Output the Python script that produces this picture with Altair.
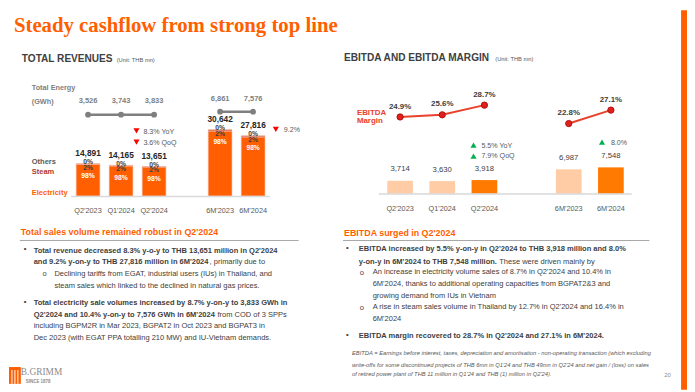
import altair as alt
import pandas as pd

# ---------------- data ----------------
periods = ["Q2'2023", "Q1'2024", "Q2'2024", "6M'2023", "6M'2024"]
groups = ["Q", "Q", "Q", "H", "H"]
revenue = [14891, 14165, 13651, 30642, 27816]
elec_share = [98, 98, 98, 98, 98]
steam_share = [2, 2, 2, 2, 2]
others_share = [0, 0, 0, 0, 0]
energy_gwh = [3526, 3743, 3833, 6861, 7576]
ebitda = [3714, 3630, 3918, 6987, 7548]
ebitda_margin = [24.9, 25.6, 28.7, 22.8, 27.1]
current = [False, False, True, False, True]

SANS = "Liberation Sans"
SERIF = "Liberation Serif"
DARK = "#404040"
GRAY = "#7F7F7F"
ORANGE = "#FF5F00"

# x domains with a blank spacer between quarters and half-years
x_domain = periods[:3] + [" "] + periods[3:]

rev_rows = []
for p, r, e, s, o in zip(periods, revenue, elec_share, steam_share, others_share):
    rev_rows.append({"period": p, "segment": "Electricity", "amount": r * e / 100, "ord": 0})
    rev_rows.append({"period": p, "segment": "Steam", "amount": r * s / 100, "ord": 1})
    rev_rows.append({"period": p, "segment": "Others", "amount": r * o / 100, "ord": 2})
rev_long = pd.DataFrame(rev_rows)

rev = pd.DataFrame({
    "period": periods, "group": groups, "revenue": revenue,
    "elec": [f"{v}%" for v in elec_share],
    "steam": [f"{v}%" for v in steam_share],
    "others": [f"{v}%" for v in others_share],
    "energy": energy_gwh,
})
eb = pd.DataFrame({
    "period": periods, "group": groups, "ebitda": ebitda,
    "margin": ebitda_margin, "current": ["cur" if c else "prev" for c in current],
    "mlabel": [f"{m:.1f}%" for m in ebitda_margin],
})
ONE = pd.DataFrame({"k": [0]})

# ---------------- scales ----------------
XL = alt.Scale(type="point", domain=x_domain, range=[81, 248], padding=0)
YL = alt.Scale(domain=[0, 35000], range=[188, 111.45], nice=False)
XR = alt.Scale(type="point", domain=x_domain, range=[396.7, 610], padding=0)
YRB = alt.Scale(domain=[0, 8000], range=[185.7, 157.4], nice=False)
YRM = alt.Scale(domain=[20, 30], range=[123.5, 91.9], nice=False, zero=False)


def txt(s, x, y, size=7.6, color=DARK, weight="normal", align="left",
        font=SANS, style="normal", baseline="middle"):
    return alt.Chart(ONE).mark_text(
        text=s, fontSize=size, color=color, fontWeight=weight, align=align,
        font=font, fontStyle=style, baseline=baseline
    ).encode(x=alt.value(x), y=alt.value(y))


def hline(x1, x2, y, color="#BFBFBF", w=1.0):
    return alt.Chart(ONE).mark_rule(color=color, strokeWidth=w).encode(
        x=alt.value(x1), x2=alt.value(x2), y=alt.value(y))


def tri(x, y, shape, color):
    return alt.Chart(ONE).mark_point(shape=shape, filled=True, color=color,
                                     size=38, opacity=1).encode(
        x=alt.value(x), y=alt.value(y))


layers = []

# right edge stripe
layers.append(alt.Chart(ONE).mark_rect(color=ORANGE).encode(
    x=alt.value(681), x2=alt.value(687), y=alt.value(0), y2=alt.value(384)))

# title
layers.append(txt("Steady cashflow from strong top line", 6, 22, size=21,
                  color=ORANGE, weight="bold", font=SERIF, baseline="alphabetic"))
layers.append(txt("TOTAL REVENUES", 14, 49, size=10.2, weight="bold"))
layers.append(txt("(Unit: THB mn)", 110, 50, size=5.8, color="#595959"))
layers.append(txt("EBITDA AND EBITDA MARGIN", 340, 48, size=10.2, weight="bold"))
layers.append(txt("(Unit: THB mn)", 493, 49, size=5.8, color="#595959"))

# ---------------- left panel: revenues ----------------
layers.append(txt("Total Energy", 24, 79, size=7.4, color=GRAY, weight="bold"))
layers.append(txt("(GWh)", 24, 93, size=7.4, color=GRAY, weight="bold"))

for g, yv, ylab in [("Q", 105.7, 92), ("H", 102.7, 90)]:
    base = alt.Chart(rev[rev.group == g])
    layers.append(base.mark_line(color=GRAY, strokeWidth=2.5).encode(
        x=alt.X("period:N", scale=XL, axis=None), y=alt.value(yv)))
    layers.append(base.mark_circle(color=GRAY, size=34, opacity=1).encode(
        x=alt.X("period:N", scale=XL, axis=None), y=alt.value(yv)))
    layers.append(base.mark_text(fontSize=7.6, fontWeight="bold", color=GRAY, font=SANS).encode(
        x=alt.X("period:N", scale=XL, axis=None), y=alt.value(ylab),
        text=alt.Text("energy:Q", format=",")))

layers.append(alt.Chart(rev_long).mark_bar(size=24, stroke="#F4B6A0", strokeWidth=0.6).encode(
    x=alt.X("period:N", scale=XL, axis=None),
    y=alt.Y("amount:Q", stack="zero", scale=YL, axis=None),
    color=alt.Color("segment:N", legend=None, scale=alt.Scale(
        domain=["Electricity", "Steam", "Others"], range=[ORANGE, "#C0392B", "#8C8C8C"])),
    order=alt.Order("ord:Q")))

revbase = alt.Chart(rev)
layers.append(revbase.mark_text(fontSize=8.4, fontWeight="bold", color="#262626", font=SANS, dy=-11).encode(
    x=alt.X("period:N", scale=XL, axis=None), y=alt.Y("revenue:Q", scale=YL, axis=None),
    text=alt.Text("revenue:Q", format=",")))
layers.append(revbase.mark_text(fontSize=6.8, fontWeight="bold", color=DARK, font=SANS, dy=-1.5).encode(
    x=alt.X("period:N", scale=XL, axis=None), y=alt.Y("revenue:Q", scale=YL, axis=None),
    text="others:N"))
layers.append(revbase.mark_text(fontSize=6.8, fontWeight="bold", color=DARK, font=SANS, dy=4).encode(
    x=alt.X("period:N", scale=XL, axis=None), y=alt.Y("revenue:Q", scale=YL, axis=None),
    text="steam:N"))
layers.append(revbase.mark_text(fontSize=6.8, fontWeight="bold", color="white", font=SANS, dy=12.5).encode(
    x=alt.X("period:N", scale=XL, axis=None), y=alt.Y("revenue:Q", scale=YL, axis=None),
    text="elec:N"))
layers.append(revbase.mark_text(fontSize=7.4, color="#595959", font=SANS).encode(
    x=alt.X("period:N", scale=XL, axis=None), y=alt.value(203), text="period:N"))
layers.append(hline(64, 265, 188.5, color="#D9D9D9", w=1.5))

layers.append(txt("Others", 24, 154, size=7.6, weight="bold", color="#595959"))
layers.append(txt("Steam", 24, 164, size=7.6, weight="bold", color="#B03A2E"))
layers.append(txt("Electricity", 24, 185, size=7.6, weight="bold", color=ORANGE))

layers.append(tri(130, 122, "triangle-down", "#FF0000"))
layers.append(tri(130, 133.5, "triangle-down", "#FF0000"))
layers.append(txt("8.3% YoY", 137, 123, size=7.2, color="#595959"))
layers.append(txt("3.6% QoQ", 137, 134.5, size=7.2, color="#595959"))
layers.append(tri(271, 120.5, "triangle-down", "#FF0000"))
layers.append(txt("9.2%", 279, 121.5, size=7.2, color="#595959"))

# ---------------- right panel: EBITDA ----------------
ebbase = alt.Chart(eb)
layers.append(ebbase.mark_bar(size=26).encode(
    x=alt.X("period:N", scale=XR, axis=None),
    y=alt.Y("ebitda:Q", scale=YRB, axis=None),
    color=alt.Color("current:N", legend=None, scale=alt.Scale(
        domain=["prev", "cur"], range=["#FFCCA6", "#FF7A00"]))))
layers.append(ebbase.mark_text(fontSize=7.8, color=DARK, font=SANS, dy=-11.5).encode(
    x=alt.X("period:N", scale=XR, axis=None), y=alt.Y("ebitda:Q", scale=YRB, axis=None),
    text=alt.Text("ebitda:Q", format=",")))
layers.append(ebbase.mark_text(fontSize=7.4, color="#595959", font=SANS).encode(
    x=alt.X("period:N", scale=XR, axis=None), y=alt.value(201), text="period:N"))
layers.append(hline(375, 631, 186, color="#D9D9D9", w=1.5))

layers.append(ebbase.mark_line(color="#E8412C", strokeWidth=2).encode(
    x=alt.X("period:N", scale=XR, axis=None),
    y=alt.Y("margin:Q", scale=YRM, axis=None), detail="group:N"))
layers.append(ebbase.mark_point(filled=True, color="#E0201B", stroke="#B01010",
                                strokeWidth=1, size=40, opacity=1).encode(
    x=alt.X("period:N", scale=XR, axis=None),
    y=alt.Y("margin:Q", scale=YRM, axis=None)))
layers.append(ebbase.mark_text(fontSize=8, fontWeight="bold", color=DARK, font=SANS, dy=-10.5).encode(
    x=alt.X("period:N", scale=XR, axis=None),
    y=alt.Y("margin:Q", scale=YRM, axis=None), text="mlabel:N"))
layers.append(txt("EBITDA", 353, 104, size=8, weight="bold", color="#E8412C"))
layers.append(txt("Margin", 353, 112.5, size=8, weight="bold", color="#E8412C"))

layers.append(tri(471, 136.5, "triangle-up", "#00B050"))
layers.append(tri(471, 147.5, "triangle-up", "#00B050"))
layers.append(txt("5.5% YoY", 479, 137, size=7.2, color="#595959"))
layers.append(txt("7.9% QoQ", 479, 148, size=7.2, color="#595959"))
layers.append(tri(601, 133.5, "triangle-up", "#00B050"))
layers.append(txt("8.0%", 610, 134, size=7.2, color="#595959"))

# ---------------- text sections ----------------
layers.append(txt("Total sales volume remained robust in Q2'2024", 13, 224, size=9,
                  weight="bold", color=ORANGE))
layers.append(hline(12, 294, 233, color="#A6A6A6", w=1))
layers.append(txt("EBITDA surged in Q2'2024", 340, 225, size=9, weight="bold", color=ORANGE))
layers.append(hline(339, 649, 233, color="#A6A6A6", w=1))

B = 7.6
left_lines = [
    ("•", 16, 242, "bold"),
    ("Total revenue decreased 8.3% y-o-y to THB 13,651 million in Q2'2024", 26, 243.7, "bold"),
    ("and 9.2% y-on-y to THB 27,816 million in 6M'2024", 26, 254.7, "bold"),
    (", primarily due to", 204, 255, "normal"),
    ("o", 35, 267, "normal"),
    ("Declining tariffs from EGAT, industrial users (IUs) in Thailand, and", 47, 267, "normal"),
    ("steam sales which linked to the declined in natural gas prices.", 47, 278.7, "normal"),
    ("•", 16, 295, "bold"),
    ("Total electricity sale volumes increased by 8.7% y-on-y to 3,833 GWh in", 26, 296.7, "bold"),
    ("Q2'2024 and 10.4% y-on-y to 7,576 GWh in 6M'2024", 26, 308.3, "bold"),
    ("from COD of 3 SPPs", 212, 308.6, "normal"),
    ("including BGPM2R in Mar 2023, BGPAT2 in Oct 2023 and BGPAT3 in", 26, 319.7, "normal"),
    ("Dec 2023 (with EGAT PPA totalling 210 MW) and IU-Vietnam demands.", 26, 331.7, "normal"),
]
right_lines = [
    ("•", 342, 241, "bold"),
    ("EBITDA increased by 5.5% y-on-y in Q2'2024 to THB 3,918 million and 8.0%", 355, 242, "bold"),
    ("y-on-y in 6M'2024 to THB 7,548 million.", 355, 254.3, "bold"),
    ("These were driven mainly by", 497, 254.6, "normal"),
    ("o", 356, 266, "normal"),
    ("An increase in electricity volume sales of 8.7% in Q2'2024 and 10.4% in", 369, 265.3, "normal"),
    ("6M'2024, thanks to additional operating capacities from BGPAT2&3 and", 369, 277, "normal"),
    ("growing demand from IUs in Vietnam", 369, 289, "normal"),
    ("o", 356, 301, "normal"),
    ("A rise in steam sales volume in Thailand by 12.7% in Q2'2024 and 16.4% in", 369, 300, "normal"),
    ("6M'2024", 369, 312, "normal"),
    ("•", 342, 328.5, "bold"),
    ("EBITDA margin recovered to 28.7% in Q2'2024 and 27.1% in 6M'2024.", 355, 330, "bold"),
]
for s, x, y, w in left_lines + right_lines:
    layers.append(txt(s, x, y, size=B, weight=w))

foot = [
    ("EBITDA = Earnings before interest, taxes, depreciation and amortisation - non-operating transaction (which excluding", 347),
    ("write-offs for some discontinued projects of THB 6mn in Q1'24 and THB 49mn in Q2'24 and net gain / (loss) on sales", 358.7),
    ("of retired power plant of THB 11 million in Q1'24 and THB (1) million in Q2'24).", 368),
]
for s, y in foot:
    layers.append(txt(s, 348, y, size=5.85, style="italic", color="#595959"))
layers.append(txt("20", 664, 369, size=6, color="#8C8C8C"))

# logo
layers.append(alt.Chart(ONE).mark_rect(color=ORANGE).encode(
    x=alt.value(1), x2=alt.value(13), y=alt.value(361), y2=alt.value(378)))
for lx in [4, 7, 10]:
    layers.append(alt.Chart(ONE).mark_rule(color="white", strokeWidth=1).encode(
        x=alt.value(lx), y=alt.value(364), y2=alt.value(378)))
layers.append(txt("B.GRIMM", 13, 366, size=9.5, color="#8C8C8C", font=SERIF))
layers.append(txt("SINCE 1878", 18, 376, size=4.5, color="#8C8C8C", weight="bold"))

chart = alt.layer(*layers).resolve_scale(
    x="independent", y="independent", color="independent"
).properties(
    width=687, height=384, padding=0,
    autosize=alt.AutoSizeParams(type="none"),
    background="white",
).configure_view(stroke=None)

chart.save("out.html", embed_options={"renderer": "svg", "actions": False})
